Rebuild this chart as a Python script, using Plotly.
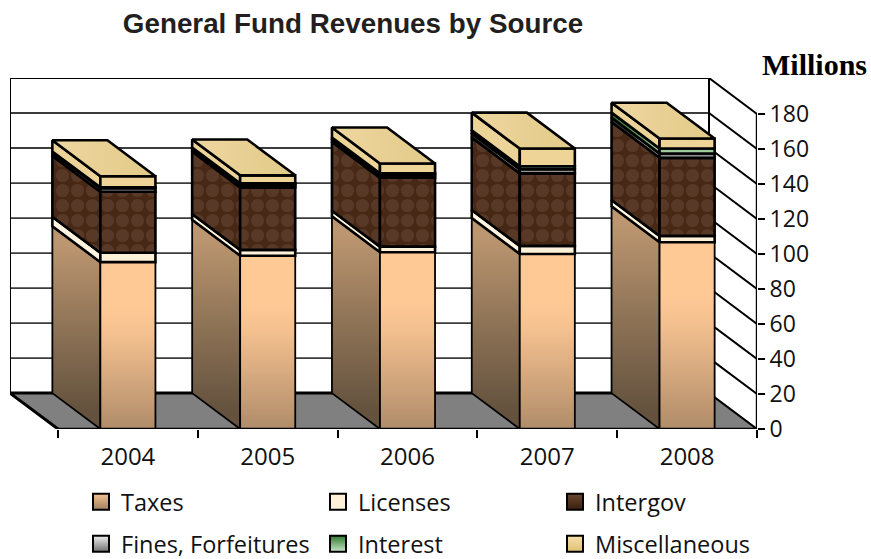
import plotly.graph_objects as go

years = ["2004", "2005", "2006", "2007", "2008"]
taxes = [95.3, 99.0, 101.0, 100.0, 106.7]
licenses = [5.4, 3.3, 3.2, 4.6, 3.6]
intergov = [34.8, 35.7, 39.3, 41.4, 44.6]
fines = [2.0, 1.4, 1.5, 2.4, 2.5]
interest = [0.5, 0.9, 1.0, 1.7, 2.8]
misc = [6.4, 4.6, 5.7, 10.1, 5.7]
value_ticks = [0, 20, 40, 60, 80, 100, 120, 140, 160, 180]
series_names = ["Taxes", "Licenses", "Intergov", "Fines, Forfeitures", "Interest", "Miscellaneous"]
series_values = [taxes, licenses, intergov, fines, interest, misc]

# oblique projection of the depth axis, in data units
DX, DY = -0.3433, 20.5
BAR_L, BAR_R = 0.303, 0.697
YMAX = 180
INK = "#000000"
FONT = "Open Sans, Noto Sans, sans-serif"

front_cols = [
    [[0, "#b08c6a"], [0.55, "#f2bf8e"], [0.72, "#ffc996"], [1, "#ffc996"]],
    [[0, "#fff0d8"], [1, "#fff0d8"]],
    [[0, "#4a2b1b"], [1, "#4a2b1b"]],
    [[0, "#b0b0b0"], [1, "#707070"]],
    [[0, "#a8d4a8"], [1, "#8fc08f"]],
    [[0, "#eed496"], [1, "#eed496"]],
]
side_cols = [
    [[0, "#64523e"], [0.5, "#8e7356"], [1, "#bc9670"]],
    [[0, "#fff4e0"], [1, "#fff4e0"]],
    [[0, "#482918"], [1, "#482918"]],
    [[0, "#808080"], [1, "#404040"]],
    [[0, "#8fbf8f"], [1, "#2f7a2f"]],
    [[0, "#ecd498"], [1, "#ecd498"]],
]
legend_cols = [("#f4c292", "#a08060"), ("#fff0d8", "#fff0d8"), ("#6a4630", "#38200f"),
               ("#f0f0f0", "#707070"), ("#2f7a2f", "#c8e8c8"), ("#f4dfae", "#e0c070")]

fig = go.Figure()


def line(xs, ys, color=INK, width=2):
    fig.add_trace(go.Scatter(x=xs, y=ys, mode="lines", line=dict(color=color, width=width),
                             hoverinfo="skip", showlegend=False, cliponaxis=False))


def face(xs, ys, scale, orient, start, stop, width=2.6, mottled=False):
    kw = {}
    if mottled:
        kw["fillpattern"] = dict(shape=".", size=15, solidity=0.6, fgcolor="#583827",
                                 bgcolor="#462814", fillmode="replace")
    else:
        kw["fillgradient"] = dict(type=orient, colorscale=scale, start=start, stop=stop)
    fig.add_trace(go.Scatter(
        x=xs + xs[:1], y=ys + ys[:1], mode="lines", fill="toself",
        line=dict(color=INK, width=width), hoverinfo="skip", showlegend=False, cliponaxis=False, **kw))


n = len(years)
# floor
fig.add_trace(go.Scatter(x=[0, n, n + DX, DX, 0], y=[0, 0, DY, DY, 0], mode="lines", fill="toself",
                         fillcolor="#808080", line=dict(width=0), hoverinfo="skip",
                         showlegend=False, cliponaxis=False))
# back wall gridlines and right wall diagonals
gx, gy, dgx, dgy = [], [], [], []
for v in value_ticks[1:-1]:
    gx += [DX, n + DX, None]
    gy += [v + DY, v + DY, None]
for v in value_ticks:
    dgx += [n + DX, n, None]
    dgy += [v + DY, v, None]
line(gx, gy, "#3c3c3c", 1.8)
line(dgx, dgy, INK, 2)
line([DX, DX, n + DX, n + DX], [DY, YMAX + DY, YMAX + DY, DY], INK, 2)
line([0, DX, n + DX], [0, DY, DY], INK, 3)

# stacked bars, drawn through the oblique projection
for i in range(n):
    x0, x1 = i + BAR_L, i + BAR_R
    base = 0
    for k, vals in enumerate(series_values):
        top = base + vals[i]
        lo, hi = (0, taxes[i]) if k == 0 else (base, top)
        side_orient = "vertical" if k != 4 else "horizontal"
        s_start, s_stop = (lo + DY * 0.5, hi + DY * 0.5) if k != 4 else (x0, x0 + DX)
        w = 1.8 if k == 0 else 2.6
        face([x0, x0 + DX, x0 + DX, x0], [base, base + DY, top + DY, top],
             side_cols[k], side_orient, s_start, s_stop, width=w, mottled=k == 2)
        face([x0, x1, x1, x0], [base, base, top, top], front_cols[k], "vertical", lo, hi,
             width=w, mottled=k == 2)
        base = top
    face([x0, x1, x1 + DX, x0 + DX], [base, base, base + DY, base + DY],
         [[0, "#eed6a0"], [1, "#e2ca88"]], "horizontal", x0 + DX, x1)

# front axis lines
line([0, n], [0, 0], INK, 2.4)
line([n, n], [0, YMAX], INK, 2.4)

# legend entries
for k, name in enumerate(series_names):
    c0, c1 = legend_cols[k]
    fig.add_trace(go.Scatter(
        x=[None], y=[None], mode="markers", name=name,
        legend="legend" if k < 3 else "legend2",
        marker=dict(symbol="square", size=16, color=c0,
                    gradient=dict(type="vertical", color=c1),
                    line=dict(color=INK, width=2)),
        showlegend=True))

legend_common = dict(orientation="h", entrywidth=192, entrywidthmode="pixels",
                     font=dict(family=FONT, size=23.5, color="#111111"),
                     x=(81 - 10) / 747, xanchor="left", yanchor="middle",
                     bgcolor="rgba(0,0,0,0)", itemclick=False, itemdoubleclick=False)

fig.update_layout(
    width=871, height=559, autosize=False,
    margin=dict(l=10, r=114, t=78, b=130, autoexpand=False),
    paper_bgcolor="white", plot_bgcolor="white",
    title=dict(text="<b>General Fund Revenues by Source</b>", x=353 / 871, xanchor="center",
               y=1 - 23 / 559, yanchor="middle",
               font=dict(family="Liberation Sans, Arial, sans-serif", size=27.8, color="#231f20")),
    xaxis=dict(range=[DX, n], tickmode="array", tickvals=[i + 0.5 for i in range(n)], ticktext=years,
               ticks="", showgrid=False, zeroline=False, showline=False, ticklabelstandoff=11,
               tickfont=dict(family=FONT, size=24, color="#111111"),
               minor=dict(tickmode="array", tickvals=list(range(n + 1)), ticks="outside",
                          ticklen=8, tickwidth=1.8, tickcolor=INK, showgrid=False)),
    yaxis=dict(range=[0, YMAX + DY], side="right", tickmode="array", tickvals=value_ticks,
               ticks="outside", ticklen=7, tickwidth=2, tickcolor=INK, showgrid=False,
               zeroline=False, showline=False,
               tickfont=dict(family=FONT, size=23, color="#111111")),
    legend=dict(legend_common, y=-(502 - 429) / 351),
    legend2=dict(legend_common, y=-(544 - 429) / 351),
    annotations=[dict(text="<b>Millions</b>", xref="paper", yref="paper", x=1 + (869 - 757) / 747, y=1 + 14 / 351,
                      xanchor="right", yanchor="middle", showarrow=False,
                      font=dict(family="Liberation Serif, Times New Roman, serif", size=30, color="#000000"))],
)
fig.write_html("out.html", post_script="document.body.style.margin='0';",
               config=dict(displayModeBar=False))
